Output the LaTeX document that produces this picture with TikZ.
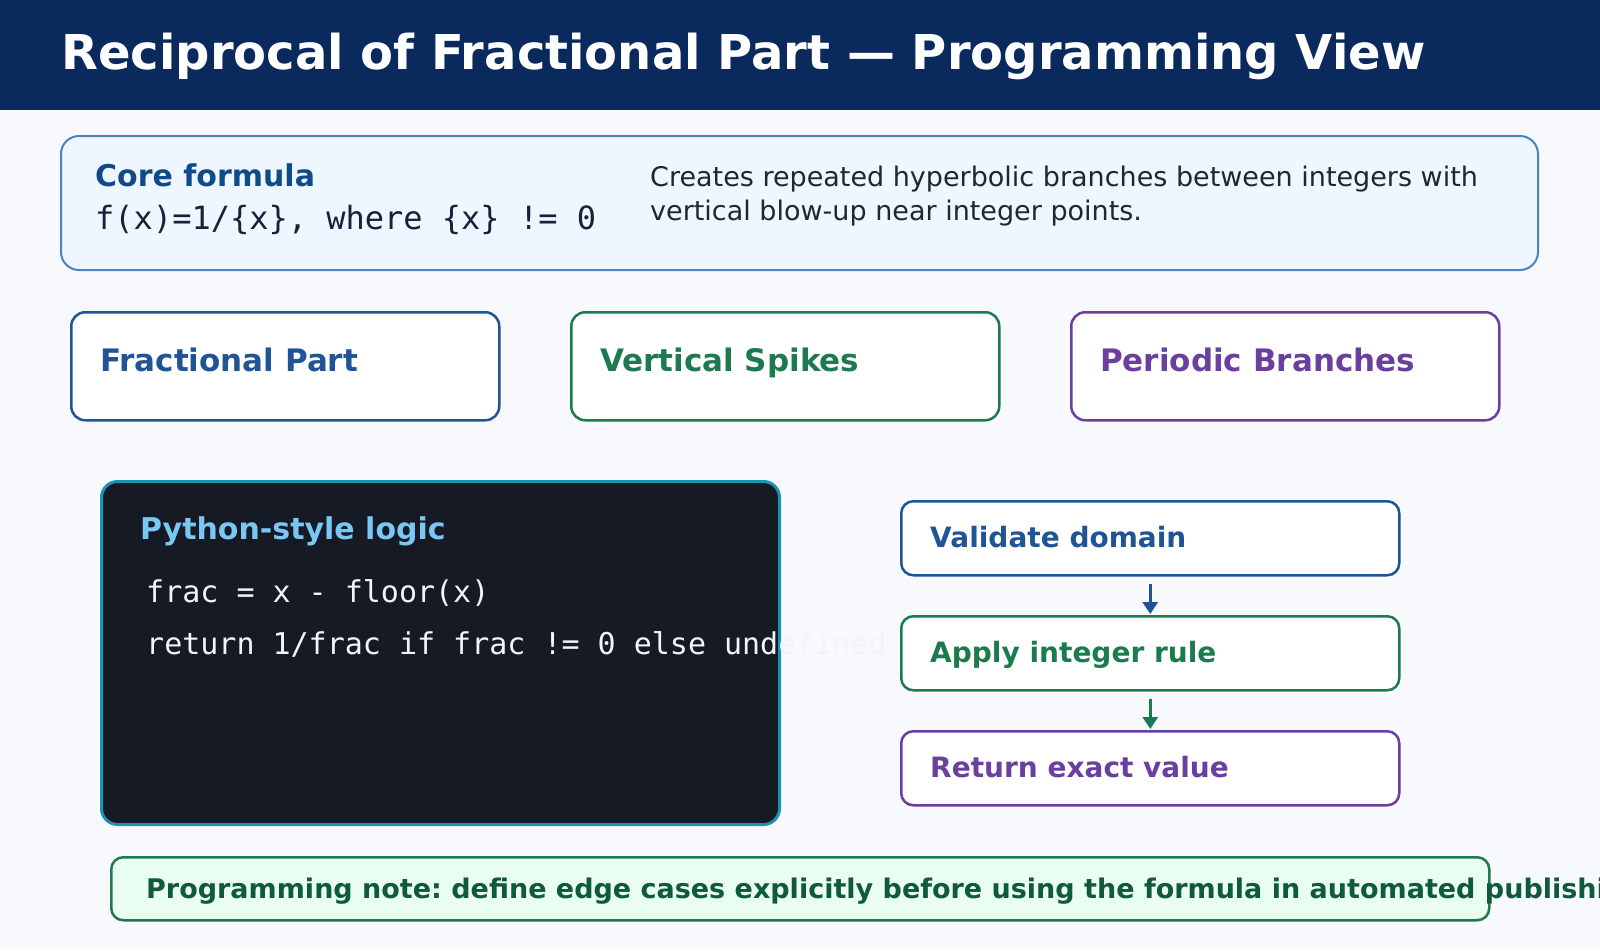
\documentclass[tikz,border=0pt]{standalone}
\usepackage{fontspec}
\setmainfont{DejaVu Sans}
\setmonofont{DejaVu Sans Mono}
\usetikzlibrary{arrows.meta}
\frenchspacing
\definecolor{bgc}{HTML}{F7F9FD}
\definecolor{hdr}{HTML}{0A2A5E}
\definecolor{corefill}{HTML}{EEF7FF}
\definecolor{coreline}{HTML}{4F82C0}
\definecolor{coretitle}{HTML}{0F4A8A}
\definecolor{formulac}{HTML}{16213A}
\definecolor{descc}{HTML}{1F2733}
\definecolor{cblue}{HTML}{1F5596}
\definecolor{cgreen}{HTML}{1B7A4E}
\definecolor{cpurple}{HTML}{6A3FA0}
\definecolor{codebg}{HTML}{151A25}
\definecolor{codeline}{HTML}{1B93B5}
\definecolor{codetitle}{HTML}{79C7F2}
\definecolor{codetext}{HTML}{F1F5FB}
\definecolor{notefill}{HTML}{E9FDF1}
\definecolor{noteline}{HTML}{1F7A4F}
\definecolor{notetext}{HTML}{0F5A3A}
\tikzset{
  boxnode/.style={draw, rectangle, anchor=north west, inner sep=0pt},
  lbl/.style={anchor=base west, inner sep=0pt},
  cardbox/.style={boxnode, fill=white, line width=2.5pt, rounded corners=14pt, minimum width=428pt, minimum height=108pt},
  flowbox/.style={boxnode, fill=white, line width=2.5pt, rounded corners=12pt, minimum width=498pt, minimum height=74pt},
  cardtitle/.style={lbl, font=\fontsize{31}{37}\selectfont\bfseries},
  flowtitle/.style={lbl, font=\fontsize{28}{34}\selectfont\bfseries},
  flowarrow/.style={line width=3pt, -{Triangle[length=12pt,width=15pt]}, shorten <=7pt, shorten >=1pt},
}
\begin{document}
\begin{tikzpicture}[x=1pt,y=-1pt]
\useasboundingbox (0,0) rectangle (1600,950);
\fill[bgc] (0,0) rectangle (1600,950);
\fill[hdr] (0,0) rectangle (1600,110);
\node[lbl, text=white, font=\fontsize{48}{56}\selectfont\bfseries] (title) at (61,70) {Reciprocal of Fractional Part — Programming View};

% core formula box
\node[boxnode, fill=corefill, draw=coreline, line width=2pt, rounded corners=18pt, minimum width=1477pt, minimum height=134pt] (core) at (60,135) {};
\node[lbl, text=coretitle, font=\fontsize{30}{36}\selectfont\bfseries] (coret) at (95,186) {Core formula};
\node[lbl, text=formulac, font=\fontsize{32}{38}\selectfont\ttfamily] (formula) at (95,229) {f(x)=1/\{x\}, where \{x\} != 0};
\node[lbl, text=descc, font=\fontsize{27}{34}\selectfont] (desc1) at (650,186) {Creates repeated hyperbolic branches between integers with};
\node[lbl, text=descc, font=\fontsize{27}{34}\selectfont] (desc2) at (650,220) {vertical blow-up near integer points.};

% cards
\node[cardbox, draw=cblue] (card1) at (70,311) {};
\node[cardbox, draw=cgreen] (card2) at (570,311) {};
\node[cardbox, draw=cpurple] (card3) at (1070,311) {};
\node[cardtitle, text=cblue] (card1t) at (100,371) {Fractional Part};
\node[cardtitle, text=cgreen] (card2t) at (600,371) {Vertical Spikes};
\node[cardtitle, text=cpurple] (card3t) at (1100,371) {Periodic Branches};

% code box
\node[boxnode, fill=codebg, draw=codeline, line width=3pt, rounded corners=16pt, minimum width=678pt, minimum height=343pt] (code) at (100,480) {};
\node[lbl, text=codetitle, font=\fontsize{30}{36}\selectfont\bfseries] (codet) at (140,539) {Python-style logic};
\node[lbl, text=codetext, font=\fontsize{30}{36}\selectfont\ttfamily] (code1) at (146,602) {frac = x - floor(x)};
\node[lbl, text=codetext, font=\fontsize{30}{36}\selectfont\ttfamily] (code2) at (146,654) {return 1/frac if frac != 0 else undefined};

% flow
\node[flowbox, draw=cblue] (f1) at (900,500) {};
\node[flowbox, draw=cgreen] (f2) at (900,615) {};
\node[flowbox, draw=cpurple] (f3) at (900,730) {};
\node[flowtitle, text=cblue] (f1t) at (930,547) {Validate domain};
\node[flowtitle, text=cgreen] (f2t) at (930,662) {Apply integer rule};
\node[flowtitle, text=cpurple] (f3t) at (930,777) {Return exact value};
\draw[flowarrow, cblue] (f1.south) -- (f2.north);
\draw[flowarrow, cgreen] (f2.south) -- (f3.north);

% note
\node[boxnode, fill=notefill, draw=noteline, line width=2.5pt, rounded corners=12pt, minimum width=1378pt, minimum height=63pt] (note) at (110,856) {};
\node[lbl, text=notetext, font=\fontsize{27}{34}\selectfont\bfseries] (notet) at (146,898) {Programming note: define edge cases explicitly before using the formula in automated publishing.};
\end{tikzpicture}
\end{document}
